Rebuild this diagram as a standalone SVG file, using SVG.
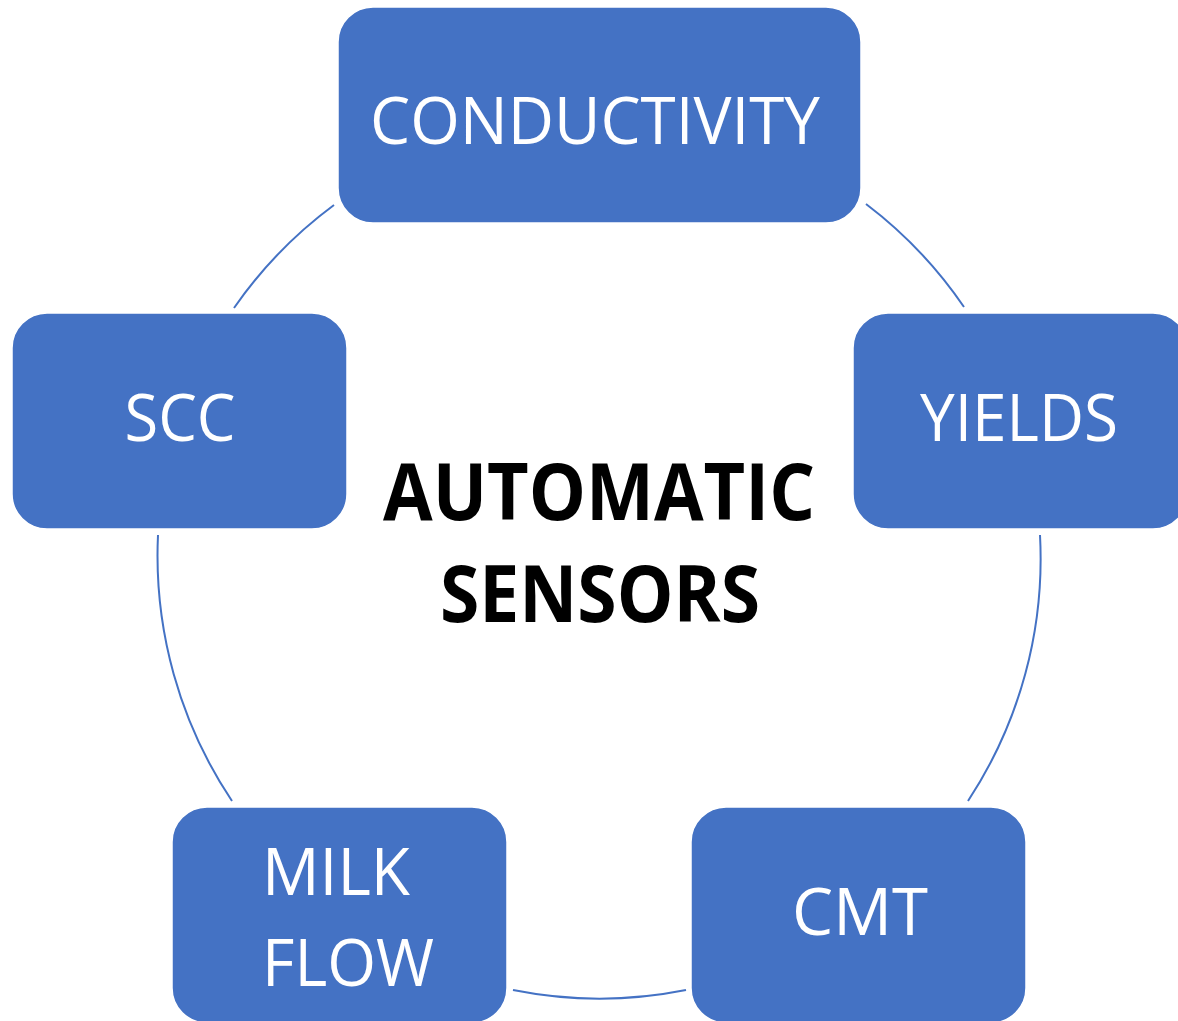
<svg xmlns="http://www.w3.org/2000/svg" width="1178" height="1021" viewBox="0 0 1178 1021">
  <style>
    .box { fill: #4472C4; stroke: #ffffff; stroke-width: 1.5; }
    .label { fill: #ffffff; font-family: "Open Sans", "Liberation Sans", sans-serif; font-size: 66px; text-anchor: middle; }
    .title { fill: #000000; font-family: "Open Sans", "Liberation Sans", sans-serif; font-weight: bold; font-size: 78px; text-anchor: middle; }
    .arc { fill: none; stroke: #4472C4; stroke-width: 2; }
  </style>
  <rect width="1178" height="1021" fill="#ffffff"/>

  <!-- ring of connecting arcs (centre 599,557, radius 441) -->
  <g id="connectors">
    <path class="arc" d="M 866 204 A 441 441 0 0 1 964 307"/>
    <path class="arc" d="M 1040 535 A 441 441 0 0 1 968 801"/>
    <path class="arc" d="M 686 990 A 441 441 0 0 1 513 990"/>
    <path class="arc" d="M 232 801 A 441 441 0 0 1 158 535"/>
    <path class="arc" d="M 234 308 A 441 441 0 0 1 334 205"/>
  </g>

  <g id="node-conductivity">
    <rect class="box" x="338" y="7" width="523" height="216" rx="35"/>
    <text class="label" x="595" y="144" textLength="450" lengthAdjust="spacingAndGlyphs">CONDUCTIVITY</text>
  </g>

  <g id="node-yields">
    <rect class="box" x="853" y="313" width="335" height="216" rx="35"/>
    <text class="label" x="1019" y="441" textLength="198" lengthAdjust="spacingAndGlyphs">YIELDS</text>
  </g>

  <g id="node-cmt">
    <rect class="box" x="691" y="807" width="335" height="216" rx="35"/>
    <text class="label" x="860" y="935" textLength="136" lengthAdjust="spacingAndGlyphs">CMT</text>
  </g>

  <g id="node-milk-flow">
    <rect class="box" x="172" y="807" width="335" height="216" rx="35"/>
    <text class="label" x="336" y="895" textLength="148" lengthAdjust="spacingAndGlyphs">MILK</text>
    <text class="label" x="348" y="986" textLength="172" lengthAdjust="spacingAndGlyphs">FLOW</text>
  </g>

  <g id="node-scc">
    <rect class="box" x="12" y="313" width="335" height="216" rx="35"/>
    <text class="label" x="180" y="441" textLength="111" lengthAdjust="spacingAndGlyphs">SCC</text>
  </g>

  <g id="centre-title">
    <text class="title" x="599" y="520" textLength="432" lengthAdjust="spacingAndGlyphs">AUTOMATIC</text>
    <text class="title" x="600" y="622" textLength="320" lengthAdjust="spacingAndGlyphs">SENSORS</text>
  </g>
</svg>
